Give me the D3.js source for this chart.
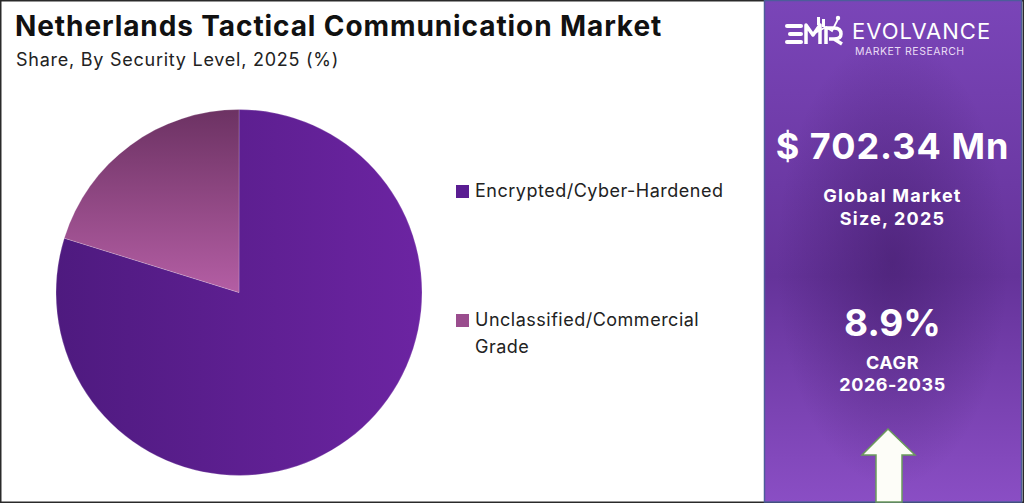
<!DOCTYPE html>
<html>
<head>
<meta charset="utf-8">
<script src="https://cdn.jsdelivr.net/npm/d3@7"></script>
<style>
  html, body { margin: 0; padding: 0; background: #fff; }
  svg { display: block; font-family: Inter, "Open Sans", sans-serif; }
</style>
</head>
<body>
<div id="chart"></div>
<script>
const title = "Netherlands Tactical Communication Market";
const subtitle = "Share, By Security Level, 2025 (%)";
const categories = ["Encrypted/Cyber-Hardened", "Unclassified/Commercial Grade"];
const legendLines = [["Encrypted/Cyber-Hardened"], ["Unclassified/Commercial", "Grade"]];
const shares = [79.8, 20.2];
const marketSize = "$ 702.34 Mn";
const marketLabel = ["Global Market", "Size, 2025"];
const cagr = "8.9%";
const cagrLabel = ["CAGR", "2026-2035"];

const W = 1024, H = 504;
const svg = d3.select("#chart").append("svg").attr("width", W).attr("height", H);
const defs = svg.append("defs");

// gradients
const g1 = defs.append("linearGradient").attr("id", "gEnc").attr("x1", 0).attr("y1", 0).attr("x2", 1).attr("y2", 0);
g1.append("stop").attr("offset", "0%").attr("stop-color", "#4e1a7f");
g1.append("stop").attr("offset", "100%").attr("stop-color", "#6c24a2");
const g2 = defs.append("linearGradient").attr("id", "gUnc").attr("x1", 0).attr("y1", 0).attr("x2", 0).attr("y2", 1);
g2.append("stop").attr("offset", "0%").attr("stop-color", "#6c3263");
g2.append("stop").attr("offset", "100%").attr("stop-color", "#b45ea4");
const gp = defs.append("linearGradient").attr("id", "gPanel").attr("x1", 0).attr("y1", 0).attr("x2", 0).attr("y2", 1);
gp.append("stop").attr("offset", "0%").attr("stop-color", "#7a45b8");
gp.append("stop").attr("offset", "55%").attr("stop-color", "#65339a");
gp.append("stop").attr("offset", "100%").attr("stop-color", "#8a4ec4");
const gr = defs.append("radialGradient").attr("id", "gRad").attr("cx", "0.5").attr("cy", "0.52").attr("r", "0.45");
gr.append("stop").attr("offset", "0%").attr("stop-color", "#3f1a66").attr("stop-opacity", 0.55);
gr.append("stop").attr("offset", "100%").attr("stop-color", "#3f1a66").attr("stop-opacity", 0);

const colors = ["url(#gEnc)", "url(#gUnc)"];
const legendColors = ["#5a1d92", "#9a4d8e"];

// frame
svg.append("rect").attr("x", 0.75).attr("y", 0.75).attr("width", W - 1.5).attr("height", H - 2.5)
  .attr("fill", "#fff").attr("stroke", "#2a2a2a").attr("stroke-width", 1.5);

// titles
svg.append("text").attr("x", 15).attr("y", 36).attr("font-size", 28).attr("font-weight", 700)
  .attr("letter-spacing", 0.9).attr("fill", "#111").text(title);
svg.append("text").attr("x", 16).attr("y", 66).attr("font-size", 18).attr("letter-spacing", 0.75)
  .attr("fill", "#222").text(subtitle);

// pie
const cx = 239, cy = 292.5, R = 183;
const pie = d3.pie().sort(null).value(d => d)(shares);
const arc = d3.arc().innerRadius(0).outerRadius(R);
const pg = svg.append("g").attr("transform", `translate(${cx},${cy})`);
pg.selectAll("path").data(pie).join("path")
  .attr("d", arc)
  .attr("fill", (d, i) => colors[i])
  .attr("stroke", "rgba(255,255,255,0.25)").attr("stroke-width", 0.8);

// legend
const legY = [185, 314];
const lg = svg.append("g");
categories.forEach((c, i) => {
  lg.append("rect").attr("x", 456).attr("y", legY[i]).attr("width", 13).attr("height", 13)
    .attr("fill", legendColors[i]);
  legendLines[i].forEach((ln, j) => {
    lg.append("text").attr("x", 475).attr("y", legY[i] + 12 + j * 27).attr("font-size", 18)
      .attr("letter-spacing", 0.5).attr("fill", "#222").text(ln);
  });
});

// right panel
const px = 764, pw = 257;
svg.append("rect").attr("x", px).attr("y", 0).attr("width", pw).attr("height", 502).attr("fill", "url(#gPanel)");
svg.append("rect").attr("x", px).attr("y", 0).attr("width", pw).attr("height", 502).attr("fill", "url(#gRad)");
svg.append("rect").attr("x", px + 0.5).attr("y", 0.5).attr("width", pw).attr("height", 501.5)
  .attr("fill", "none").attr("stroke", "#4d5c9a").attr("stroke-width", 1.5);

// logo
const logo = svg.append("g").attr("fill", "#fff");
// E
logo.append("rect").attr("x", 785).attr("y", 24).attr("width", 18).attr("height", 4).attr("rx", 2);
logo.append("rect").attr("x", 788).attr("y", 32).attr("width", 15).attr("height", 4).attr("rx", 2);
logo.append("rect").attr("x", 785).attr("y", 40).attr("width", 18).attr("height", 4).attr("rx", 2);
// M
logo.append("path").attr("d", "M806,44 L806,25 L813,35 L820,25 L820,44").attr("fill", "none")
  .attr("stroke", "#fff").attr("stroke-width", 3.5).attr("stroke-linejoin", "round");
logo.append("rect").attr("x", 817).attr("y", 17).attr("width", 3).attr("height", 8);
logo.append("rect").attr("x", 822).attr("y", 19).attr("width", 3).attr("height", 8);
logo.append("path").attr("d", "M815,33 L826,27 L832,31 L838,19").attr("fill", "none")
  .attr("stroke", "#fff").attr("stroke-width", 1.8);
logo.append("circle").attr("cx", 838).attr("cy", 18).attr("r", 2.2);
// R
logo.append("path").attr("d", "M826,44 L826,28 L834,28 Q841,28 841,34 Q841,39 834,39 L829,39 M834,39 L842,44")
  .attr("fill", "none").attr("stroke", "#fff").attr("stroke-width", 3.5).attr("stroke-linejoin", "round");
logo.append("text").attr("x", 852).attr("y", 39).attr("font-size", 22).attr("font-weight", 400)
  .attr("letter-spacing", 1).text("EVOLVANCE");
logo.append("text").attr("x", 855).attr("y", 55).attr("font-size", 10.5).attr("letter-spacing", 0.5)
  .attr("fill", "#e9dcf5").text("MARKET RESEARCH");

const tc = px + pw / 2;
svg.append("text").attr("x", tc).attr("y", 159).attr("text-anchor", "middle").attr("font-size", 36)
  .attr("font-weight", 700).attr("letter-spacing", 1).attr("fill", "#fff").text(marketSize);
marketLabel.forEach((t, i) => {
  svg.append("text").attr("x", tc).attr("y", 202 + i * 23).attr("text-anchor", "middle").attr("font-size", 18)
    .attr("font-weight", 700).attr("letter-spacing", 1.2).attr("fill", "#fff").text(t);
});
svg.append("text").attr("x", tc).attr("y", 336).attr("text-anchor", "middle").attr("font-size", 37)
  .attr("font-weight", 700).attr("fill", "#fff").text(cagr);
cagrLabel.forEach((t, i) => {
  svg.append("text").attr("x", tc).attr("y", 369 + i * 22).attr("text-anchor", "middle").attr("font-size", 18)
    .attr("font-weight", 700).attr("letter-spacing", 0.6).attr("fill", "#fff").text(t);
});

// arrow
svg.append("path")
  .attr("d", "M888,429 L915,455 L902,455 L902,502 L876,502 L876,455 L862,455 Z")
  .attr("fill", "#fdfdf8").attr("stroke", "#6b9a5c").attr("stroke-width", 1.5);
</script>
</body>
</html>
